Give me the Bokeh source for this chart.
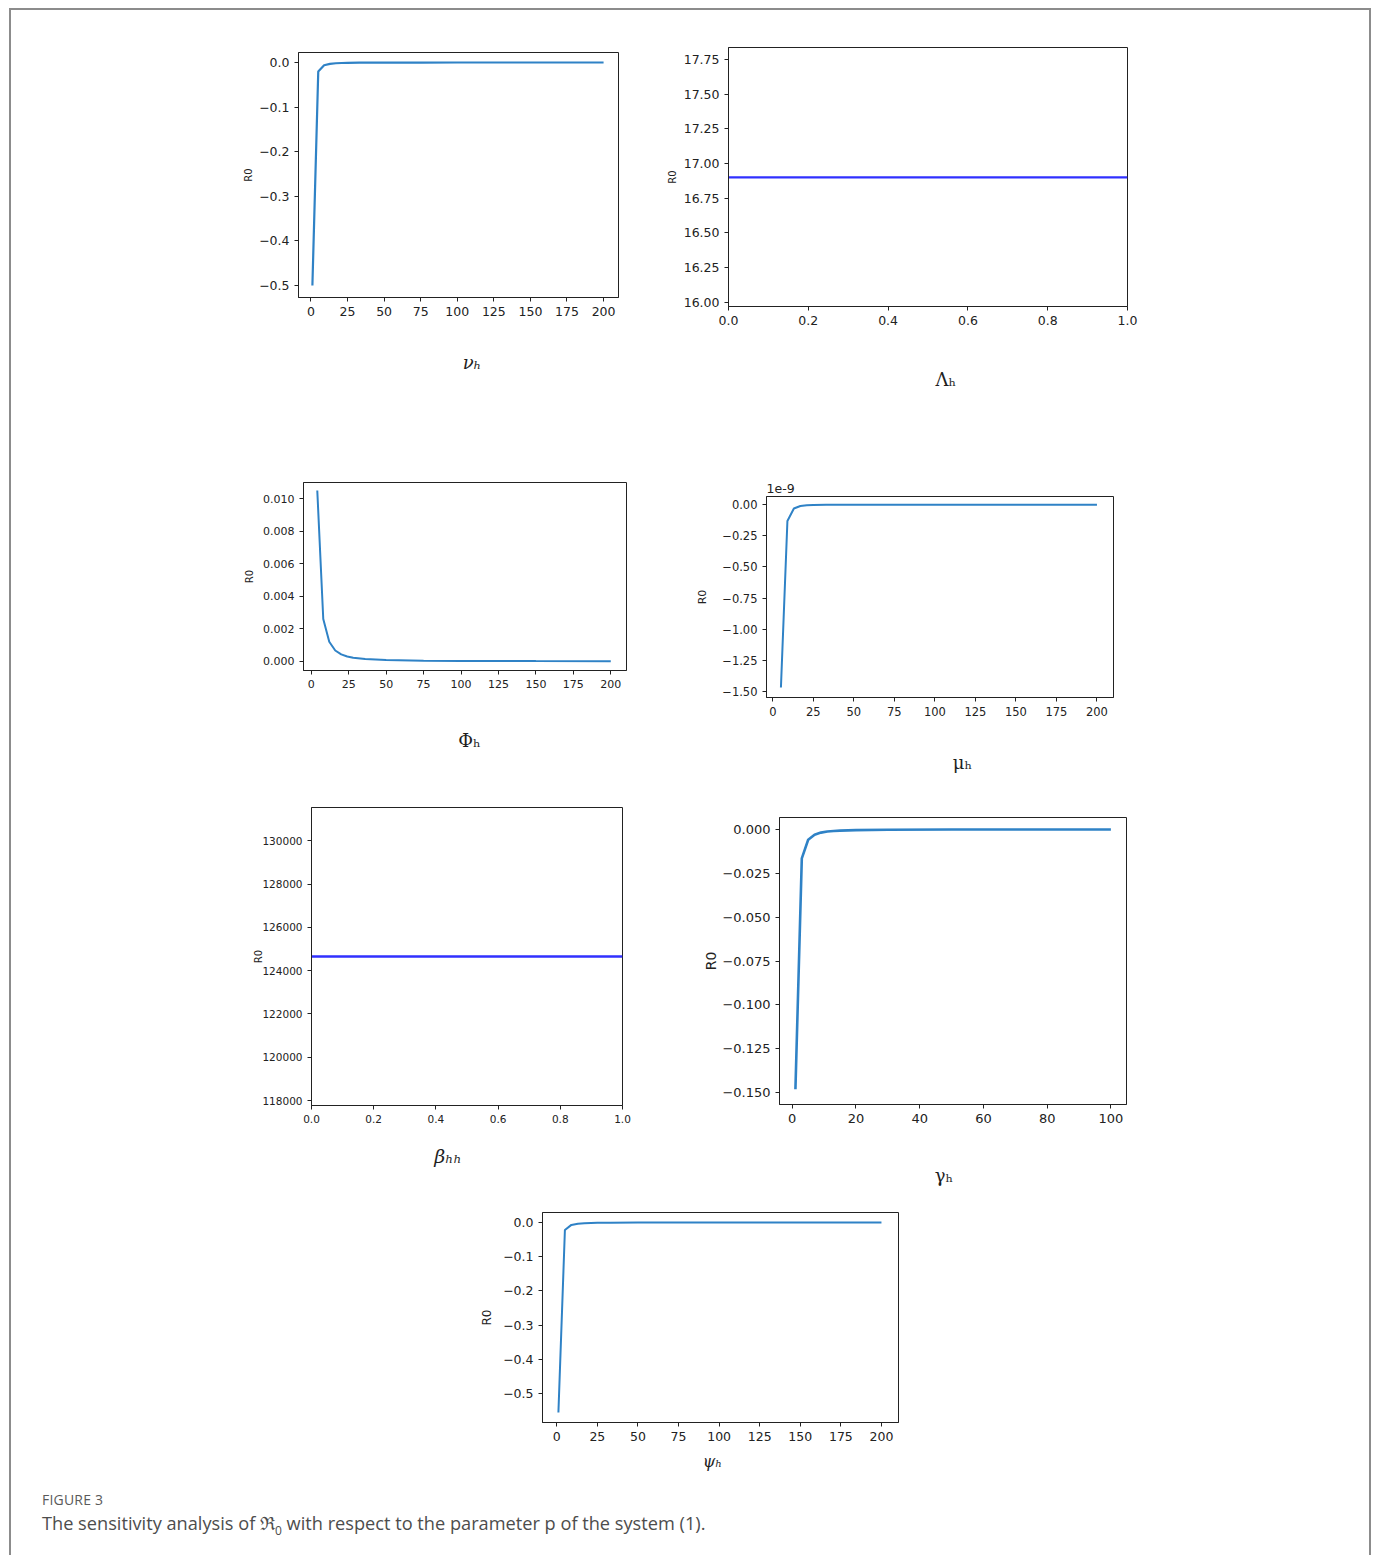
from bokeh.plotting import figure
from bokeh.layouts import column, row
from bokeh.models import Spacer, Div, FixedTicker, Title
from bokeh.embed import file_html
from bokeh.resources import INLINE

# ---------------- data ----------------
nu_x = [1, 5, 9, 13, 17, 21, 25, 33, 50, 75, 100, 150, 200]
nu_y = [-0.50, -0.020, -0.0062, -0.0030, -0.0017, -0.0011, -0.0008, -0.0005,
        -0.0002, -0.0001, -0.00005, -0.00002, -0.00001]

lam_x = [0.0, 1.0]
lam_y = [16.9, 16.9]

phi_x = [4, 8, 12, 16, 20, 24, 28, 36, 50, 75, 100, 150, 200]
phi_y = [0.0105, 0.0026, 0.0012, 0.00066, 0.00042, 0.00029, 0.00021, 0.00013,
         0.00007, 0.00003, 0.00002, 0.00001, 0.000004]

mu_x = [5, 9, 13, 17, 21, 25, 33, 50, 100, 200]          # values in units of 1e-9
mu_y = [-1.47, -0.13, -0.030, -0.010, -0.004, -0.002, -0.0007, -0.0001, 0.0, 0.0]

beta_x = [0.0, 1.0]
beta_y = [124653, 124653]

gam_x = [1, 3, 5, 7, 9, 11, 13, 15, 20, 30, 50, 75, 100]
gam_y = [-0.148, -0.0165, -0.0059, -0.0030, -0.0018, -0.0012, -0.0009, -0.0007,
         -0.0004, -0.00016, -0.00006, -0.00003, -0.000015]

psi_x = [1, 5, 9, 13, 17, 21, 25, 33, 50, 75, 100, 150, 200]
psi_y = [-0.556, -0.022, -0.0069, -0.0033, -0.0019, -0.0013, -0.0009, -0.0005,
         -0.0002, -0.0001, -0.00006, -0.00002, -0.00001]

# tick values / labels
x200_ticks = [0, 25, 50, 75, 100, 125, 150, 175, 200]
x200_labels = ["0", "25", "50", "75", "100", "125", "150", "175", "200"]
x1_ticks = [0.0, 0.2, 0.4, 0.6, 0.8, 1.0]
x1_labels = ["0.0", "0.2", "0.4", "0.6", "0.8", "1.0"]
x100_ticks = [0, 20, 40, 60, 80, 100]
x100_labels = ["0", "20", "40", "60", "80", "100"]

nu_yticks = [0.0, -0.1, -0.2, -0.3, -0.4, -0.5]
nu_ylabels = ["0.0", "\u22120.1", "\u22120.2", "\u22120.3", "\u22120.4", "\u22120.5"]
lam_yticks = [16.0, 16.25, 16.5, 16.75, 17.0, 17.25, 17.5, 17.75]
lam_ylabels = ["16.00", "16.25", "16.50", "16.75", "17.00", "17.25", "17.50", "17.75"]
phi_yticks = [0.0, 0.002, 0.004, 0.006, 0.008, 0.010]
phi_ylabels = ["0.000", "0.002", "0.004", "0.006", "0.008", "0.010"]
mu_yticks = [0.0, -0.25, -0.5, -0.75, -1.0, -1.25, -1.5]
mu_ylabels = ["0.00", "\u22120.25", "\u22120.50", "\u22120.75", "\u22121.00", "\u22121.25", "\u22121.50"]
beta_yticks = [118000, 120000, 122000, 124000, 126000, 128000, 130000]
beta_ylabels = ["118000", "120000", "122000", "124000", "126000", "128000", "130000"]
gam_yticks = [0.0, -0.025, -0.05, -0.075, -0.1, -0.125, -0.15]
gam_ylabels = ["0.000", "\u22120.025", "\u22120.050", "\u22120.075", "\u22120.100", "\u22120.125", "\u22120.150"]
psi_yticks = [0.0, -0.1, -0.2, -0.3, -0.4, -0.5]
psi_ylabels = ["0.0", "\u22120.1", "\u22120.2", "\u22120.3", "\u22120.4", "\u22120.5"]

CURVE = "#2f82c6"
FLAT = "#3030ff"
INK = "#222222"
EN = "\u2002"


def panel(x, y, color, lw, xr, yr, xt, xl, yt, yl, fw, fh, bl, br, bt, bb,
          xlabel, xlabel_style, xlabel_size, xstand, tick_size, ylab_size, ystand):
    p = figure(width=bl + fw + br, height=bt + fh + bb,
               x_range=xr, y_range=yr, output_backend="svg",
               toolbar_location=None, min_border_left=bl, min_border_right=br,
               min_border_top=bt, min_border_bottom=bb)
    p.line(x, y, line_color=color, line_width=lw)
    p.grid.visible = False
    p.outline_line_color = INK
    p.outline_line_width = 1
    p.outline_line_alpha = 1
    p.background_fill_color = "white"
    p.border_fill_color = "white"
    for ax in (p.xaxis[0], p.yaxis[0]):
        ax.axis_line_color = INK
        ax.major_tick_line_color = INK
        ax.major_tick_out = 4
        ax.major_tick_in = 0
        ax.minor_tick_line_color = None
        ax.major_label_text_font = "DejaVu Sans"
        ax.major_label_text_font_size = tick_size
        ax.major_label_text_color = INK
        ax.major_label_standoff = 5
    p.xaxis[0].ticker = FixedTicker(ticks=xt)
    p.xaxis[0].major_label_overrides = dict(zip(xt, xl))
    p.yaxis[0].ticker = FixedTicker(ticks=yt)
    p.yaxis[0].major_label_overrides = dict(zip(yt, yl))
    p.xaxis[0].axis_label = xlabel
    p.xaxis[0].axis_label_text_font = "DejaVu Serif"
    p.xaxis[0].axis_label_text_font_style = xlabel_style
    p.xaxis[0].axis_label_text_font_size = xlabel_size
    p.xaxis[0].axis_label_text_color = "#1e1e1e"
    p.xaxis[0].axis_label_standoff = xstand
    p.yaxis[0].axis_label = "R0"
    p.yaxis[0].axis_label_text_font = "DejaVu Sans"
    p.yaxis[0].axis_label_text_font_style = "normal"
    p.yaxis[0].axis_label_text_font_size = ylab_size
    p.yaxis[0].axis_label_text_color = INK
    p.yaxis[0].axis_label_standoff = ystand
    return p


# Row A
p1 = panel(nu_x, nu_y, CURVE, 2.2, (-8.5, 210.2), (-0.527, 0.0224),
           x200_ticks, x200_labels, nu_yticks, nu_ylabels,
           320, 245, 75, 20, 42, 123, EN * 3 + "\u03bd\u2095", "italic", "18px", 33, "12.5px", "10px", 2)
p2 = panel(lam_x, lam_y, FLAT, 2.4, (0.0, 1.0), (15.969, 17.837),
           x1_ticks, x1_labels, lam_yticks, lam_ylabels,
           399, 259, 90, 30, 37, 114, EN * 4 + "\u039b\u2095", "normal", "18px", 41, "12.5px", "10px", 3)
# Row B
p3 = panel(phi_x, phi_y, CURVE, 2.0, (-5.2, 210.5), (-0.00057, 0.01099),
           x200_ticks, x200_labels, phi_yticks, phi_ylabels,
           323, 188, 80, 24, 62, 120, EN + "\u03a6\u2095", "normal", "18px", 39, "11px", "10px", 5)
p4 = panel(mu_x, mu_y, CURVE, 2.0, (-3.9, 210.2), (-1.5505, 0.0666),
           x200_ticks, x200_labels, mu_yticks, mu_ylabels,
           347, 201, 116, 44, 76, 93, EN * 5 + "\u03bc\u2095", "normal", "18px", 33, "11.5px", "11px", 10)
t4 = Title(text="1e-9", align="left", text_font="DejaVu Sans", text_font_size="12.5px",
           text_font_style="normal", text_color=INK, standoff=8)
p4.add_layout(t4, "above")
# Row C
p5 = panel(beta_x, beta_y, FLAT, 2.6, (0.0, 1.0), (117769, 131537),
           x1_ticks, x1_labels, beta_yticks, beta_ylabels,
           311, 298, 88, 28, 17, 90, "\u03b2\u2095\u2095" + EN * 4, "italic", "19px", 19, "10.5px", "10px", -5)
p6 = panel(gam_x, gam_y, CURVE, 2.6, (-4.0, 104.9), (-0.1567, 0.0068),
           x100_ticks, x100_labels, gam_yticks, gam_ylabels,
           347, 287, 129, 31, 27, 91, "\u03b3\u2095" + EN * 2, "normal", "18px", 39, "13px", "14px", 0)
# Row D
p7 = panel(psi_x, psi_y, CURVE, 2.0, (-8.8, 210.5), (-0.585, 0.0294),
           x200_ticks, x200_labels, psi_yticks, psi_ylabels,
           356, 210, 82, 30, 17, 62, "\u03c8\u2095" + EN * 2, "italic", "16px", 8, "12.5px", "12px", 6)

rowA = row(Spacer(width=212, height=410), column(p1), column(p2))
rowB = row(Spacer(width=212, height=370), column(p3), column(p4))
rowC = row(Spacer(width=212, height=405), column(p5), column(p6))
rowD = row(Spacer(width=449, height=289), column(p7))

caption = Div(
    text=('<div style="font-family:\'Open Sans\',\'Lato\',sans-serif;'
          'padding-left:26px;padding-top:1px;">'
          '<div style="font-size:14px;letter-spacing:0.2px;color:#5a5a5a;">FIGURE 3</div>'
          '<div style="font-size:18.2px;margin-top:0px;color:#4d4d4d;">The sensitivity analysis of '
          '\u211c<sub style="font-size:12px;">0</sub> with respect to the parameter p of the system (1).</div>'
          '</div>'),
    width=1300, height=70)

page = column(rowA, rowB, rowC, rowD, caption, width=1362,
              styles={"border": "2px solid #8c8c8c", "border-bottom": "none"})

root = column(Spacer(height=8, width=1370), row(Spacer(width=9, height=10), page))

open("out.html", "w").write(file_html(root, INLINE))
